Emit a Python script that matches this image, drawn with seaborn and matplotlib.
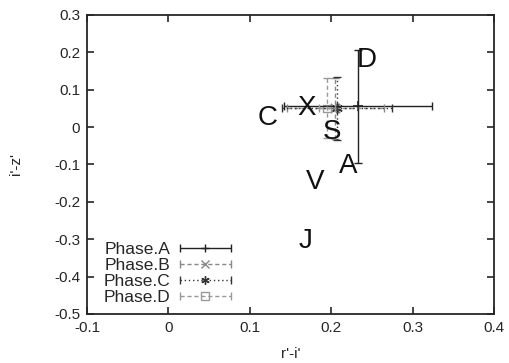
import numpy as np
import pandas as pd
import seaborn as sns
import matplotlib
matplotlib.use("Agg")
import matplotlib.pyplot as plt
from matplotlib.legend_handler import HandlerErrorbar

# data
phases = ["Phase.A", "Phase.B", "Phase.C", "Phase.D"]
x_vals = [0.233, 0.205, 0.207, 0.195]
y_vals = [0.055, 0.05, 0.05, 0.05]
x_errs = [0.091, 0.060, 0.068, 0.010]
y_errs = [0.150, 0.082, 0.085, 0.080]

labels = ["C", "X", "S", "D", "A", "V", "J"]
label_x = [0.122, 0.170, 0.201, 0.243, 0.221, 0.180, 0.168]
label_y = [0.025, 0.051, -0.013, 0.180, -0.103, -0.146, -0.304]

df = pd.DataFrame({"phase": phases, "x": x_vals, "y": y_vals})

sns.set_style("ticks")
plt.rcParams["font.family"] = ["Liberation Sans", "DejaVu Sans"]

fig = plt.figure(figsize=(5.09, 3.63), dpi=100)
ax = fig.add_axes([0.171, 0.135, 0.800, 0.824])

colors = ["#222222", "#888888", "#333333", "#999999"]
styles = ["-", (0, (3, 2)), (0, (1, 2)), (0, (3, 2))]
markers = ["+", "x", (6, 2, 0), "s"]

for i, ph in enumerate(phases):
    eb = ax.errorbar(x_vals[i], y_vals[i], xerr=x_errs[i], yerr=y_errs[i],
                     fmt="none", ecolor=colors[i], elinewidth=1.0, capsize=3)
    eb[-1][0].set_linestyle(styles[i])
    eb[-1][1].set_linestyle(styles[i])
    sub = df[df["phase"] == ph]
    if markers[i] == "s":
        sns.scatterplot(data=sub, x="x", y="y", marker="s", s=30, facecolor="none",
                        edgecolor=colors[i], linewidth=1, legend=False, ax=ax)
    else:
        sns.scatterplot(data=sub, x="x", y="y", marker=markers[i], s=45,
                        color=colors[i], linewidth=1.2, legend=False, ax=ax)

for t, lx, ly in zip(labels, label_x, label_y):
    ax.text(lx, ly, t, fontsize=20, ha="center", va="center", color="#111111")

# legend with error-bar glyphs (drawn off-axis so caps exist)
handles = []
for i, ph in enumerate(phases):
    h = ax.errorbar([5], [5], xerr=[1], fmt="x", color=colors[i], ls="none",
                    elinewidth=1, capsize=3, mfc="none", ms=6)
    h[0].set_marker(markers[i])
    h[-1][0].set_linestyle(styles[i])
    handles.append(h)
ax.legend(handles=handles, labels=phases, loc="lower left", bbox_to_anchor=(0.02, 0.0),
          frameon=False, fontsize=12.5, markerfirst=False, handlelength=3.0,
          handletextpad=0.5, labelspacing=0.05, borderaxespad=0.3, borderpad=0.2,
          handler_map={type(handles[0]): HandlerErrorbar(xerr_size=1.45)})

ax.set_xlim(-0.1, 0.4)
ax.set_ylim(-0.5, 0.3)
ax.set_xticks(np.arange(-0.1, 0.41, 0.1))
ax.set_yticks(np.arange(-0.5, 0.31, 0.1))
ax.set_xticklabels(["-0.1", "0", "0.1", "0.2", "0.3", "0.4"])
ax.set_yticklabels(["-0.5", "-0.4", "-0.3", "-0.2", "-0.1", "0", "0.1", "0.2", "0.3"])
ax.tick_params(direction="in", top=True, right=True, length=5, labelsize=11, width=1.2, pad=5)
for sp in ax.spines.values():
    sp.set_linewidth(1.3)
ax.set_xlabel("r'-i'", fontsize=11, labelpad=9)
ax.set_ylabel("i'-z'", fontsize=11, labelpad=22)

fig.savefig("out.png", dpi=100)
